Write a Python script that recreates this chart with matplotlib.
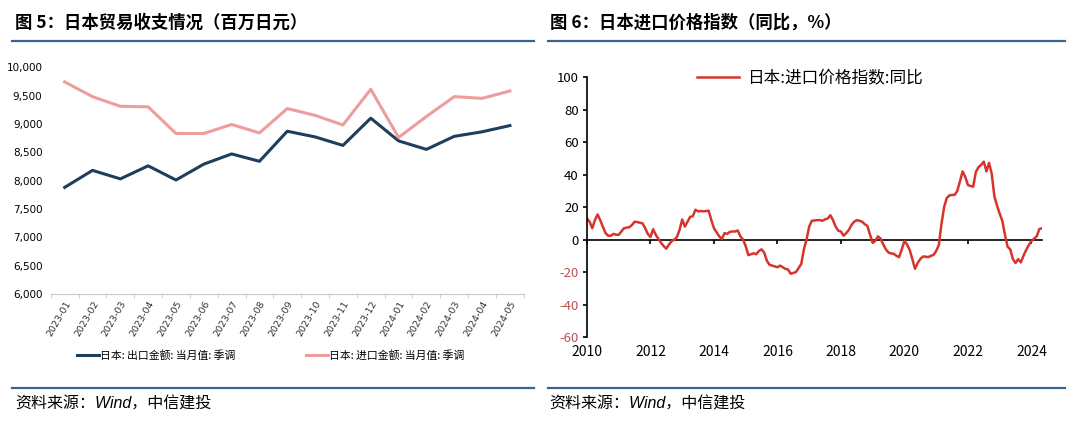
import matplotlib.pyplot as plt
from matplotlib.lines import Line2D

plt.rcParams['font.family'] = ['Noto Sans CJK SC', 'DejaVu Sans']

# 左图：日本贸易收支（百万日元）
months = ["2023-01", "2023-02", "2023-03", "2023-04", "2023-05", "2023-06", "2023-07", "2023-08",
          "2023-09", "2023-10", "2023-11", "2023-12", "2024-01", "2024-02", "2024-03", "2024-04", "2024-05"]
exports = [7880, 8180, 8030, 8260, 8010, 8290, 8470, 8340, 8870, 8770, 8620, 9100, 8700, 8550, 8780, 8860, 8970]
imports = [9740, 9480, 9310, 9300, 8830, 8830, 8990, 8840, 9270, 9150, 8980, 9610, 8760, 9130, 9480, 9450, 9580]

# 右图：日本进口价格指数同比（%），2010-01 ~ 2024-05 月度
price_yoy = [
    13, 11, 7, 12, 15.5, 12, 8, 4, 2.4, 2.4, 3.5, 3,                 # 2010
    3, 5, 7, 7.4, 7.6, 9, 11, 10.8, 10.4, 10, 7, 3.5,                # 2011
    1.6, 6.4, 3, 0.4, -2, -4, -5.6, -3, -1, 0, 1.6, 6,               # 2012
    12.4, 8, 11, 14, 14.4, 18.4, 17.4, 17.6, 17.4, 17.6, 17.8, 12,   # 2013
    7, 4.5, 2, 0.4, 4, 3.5, 4.8, 5, 5, 5.6, 2, 0,                    # 2014
    -4, -9.6, -9, -8.4, -9, -7, -6, -8, -13, -15.5, -16, -16.5,      # 2015
    -17, -16, -17, -18, -18.4, -21, -20.5, -20, -17.5, -15, -6, 0,   # 2016
    8, 11.6, 11.8, 12, 12, 11.6, 12.5, 13, 15, 12, 8, 5.5,           # 2017
    5, 2.4, 4, 6, 9, 11, 12, 11.6, 11, 9.5, 8.4, 3,                  # 2018
    -2, -0.8, 2, 0.6, -3, -6, -8, -8.5, -8.8, -10, -10.8, -6,        # 2019
    -0.8, -3, -6.4, -12, -18, -14.4, -12, -10.4, -10.5, -10.8, -10, -9.4,  # 2020
    -7, -3.4, 9.6, 20, 25.6, 27.2, 27.5, 27.6, 30, 36, 42, 38.6,     # 2021
    33.6, 33, 32.6, 41.6, 44.6, 46, 48, 42, 47.2, 40.6, 26.6, 21,    # 2022
    16, 11.6, 3, -4.4, -6, -12, -14.4, -12, -14, -10, -6.4, -3.4,    # 2023
    -1, 0.6, 2, 6.5, 7,                                              # 2024
]
year_ticks = [2010, 2012, 2014, 2016, 2018, 2020, 2022, 2024]

navy = '#1F3D5C'
pink = '#EE9C9C'
red = '#D7342C'
negred = '#C0504D'
rule = '#3A6590'

fig = plt.figure(figsize=(10.8, 4.24), dpi=100)

# 标题、分隔线、来源
fig.text(0.014, 0.946, "图 5：日本贸易收支情况（百万日元）", fontsize=12.5, fontweight='bold', va='center')
fig.text(0.509, 0.946, "图 6：日本进口价格指数（同比，%）", fontsize=12.5, fontweight='bold', va='center')
for x0, x1 in [(0.011, 0.494), (0.507, 0.986)]:
    fig.add_artist(Line2D([x0, x1], [0.903, 0.903], color=rule, lw=1.6))
    fig.add_artist(Line2D([x0, x1], [0.085, 0.085], color=rule, lw=1.6))
src_font = ['Liberation Sans', 'Noto Sans CJK SC']
fig.text(0.014, 0.046, "资料来源：Wind，中信建投", fontsize=11.5, style='italic', va='center', family=src_font)
fig.text(0.509, 0.046, "资料来源：Wind，中信建投", fontsize=11.5, style='italic', va='center', family=src_font)

# 左图
ax1 = fig.add_axes([0.047, 0.3066, 0.438, 0.535])
xs = list(range(len(months)))
ax1.plot(xs, exports, color=navy, lw=2.2, label="日本: 出口金额: 当月值: 季调")
ax1.plot(xs, imports, color=pink, lw=2.2, label="日本: 进口金额: 当月值: 季调")
ax1.set_xlim(-0.5, len(months) - 0.5)
ax1.set_ylim(6000, 10000)
ax1.set_yticks(range(6000, 10001, 500))
ax1.set_yticklabels([f"{v:,}" for v in range(6000, 10001, 500)],
                    fontsize=7.5, family=['Liberation Sans Narrow', 'DejaVu Sans'])
ax1.set_xticks(xs)
ax1.set_xticklabels(months, rotation=60, fontsize=6.8, ha='right', rotation_mode='anchor',
                    family=['Liberation Sans Narrow', 'DejaVu Sans'], color='#333333')
ax1.set_xticks([x - 0.5 for x in xs] + [len(months) - 0.5], minor=True)
ax1.tick_params(axis='x', which='major', length=0, pad=4)
ax1.tick_params(axis='x', which='minor', length=3, color='#C8C8C8')
ax1.tick_params(axis='y', length=0, pad=6)
for s in ['top', 'right', 'left']:
    ax1.spines[s].set_visible(False)
ax1.spines['bottom'].set_color('#C8C8C8')
ax1.legend(loc='center', bbox_to_anchor=(0.465, -0.27), ncol=2, frameon=False,
           fontsize=7.8, handlelength=2.0, handletextpad=0.1, columnspacing=6.5)

# 右图
ax2 = fig.add_axes([0.5435, 0.205, 0.4213, 0.613])
px = [2010 + i / 12 for i in range(len(price_yoy))]
ax2.plot(px, price_yoy, color=red, lw=1.8, label="日本:进口价格指数:同比")
ax2.set_xlim(2010, px[-1])
ax2.set_ylim(-60, 100)
yt = list(range(-60, 101, 20))
ax2.set_yticks(yt)
ax2.set_yticklabels([str(v) for v in yt], fontsize=9.5)
for lab, v in zip(ax2.get_yticklabels(), yt):
    lab.set_color(negred if v < 0 else 'black')
ax2.set_xticks(year_ticks)
ax2.set_xticklabels([str(y) for y in year_ticks], fontsize=10)
ax2.tick_params(axis='x', length=0, pad=6)
ax2.tick_params(axis='y', direction='out', length=3, width=1.2, pad=3)
for s in ['top', 'right', 'bottom']:
    ax2.spines[s].set_visible(False)
ax2.spines['left'].set_linewidth(1.2)
zero = ax2.secondary_xaxis(60 / 160)
zero.set_xticks(year_ticks)
zero.set_xticklabels([])
zero.tick_params(direction='out', length=3, width=1.2)
zero.spines['bottom'].set_linewidth(1.2)
ax2.legend(loc='upper center', bbox_to_anchor=(0.49, 1.085), frameon=False, fontsize=12,
           handlelength=2.5, handletextpad=0.5)

fig.savefig("out.png", dpi=100)
